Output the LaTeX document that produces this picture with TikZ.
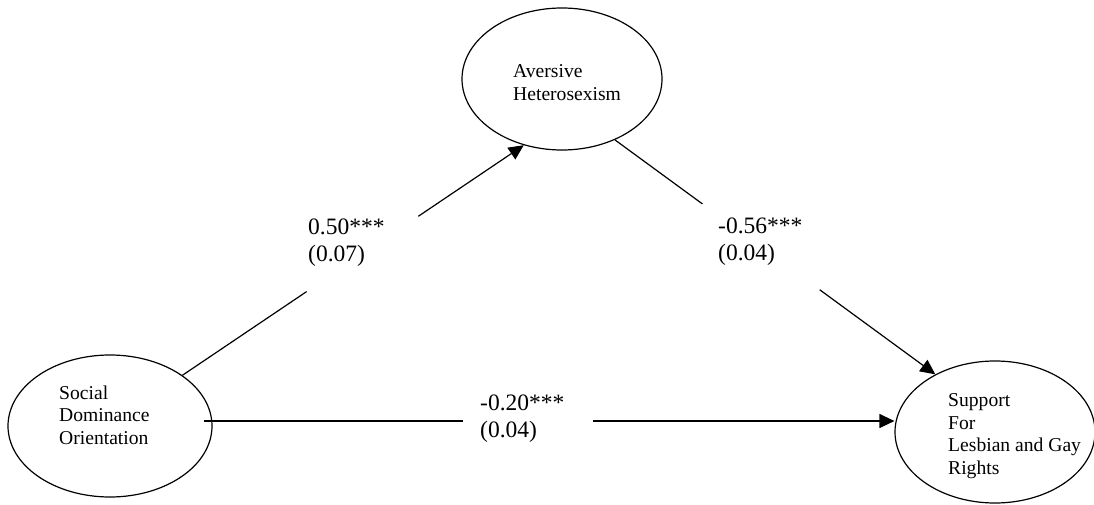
\documentclass[tikz,border=0pt]{standalone}
\usepackage{fontspec}
\setmainfont{Liberation Serif}
\usetikzlibrary{arrows.meta,shapes.geometric,calc}
\begin{document}
\begin{tikzpicture}[x=1pt,y=1pt,
  latent/.style={draw, ellipse, line width=1.2pt, minimum height=142pt, inner sep=0pt},
  txt/.style={anchor=north west, inner sep=0pt, align=left, font=\fontsize{19.6}{22.5}\selectfont},
  lab/.style={anchor=north west, inner sep=0pt, align=left, font=\fontsize{23.5}{27}\selectfont},
  conn/.style={line width=1.2pt},
  arr/.style={conn, -{Triangle[length=15pt,width=14pt]}}]
\useasboundingbox (0,0) rectangle (1094,504);
% latent variables
\node[latent, minimum width=200pt] (ah) at (562,425) {};
\node[latent, minimum width=204pt] (sdo) at (110,78) {};
\node[latent, minimum width=200pt] (slgr) at (995,72) {};
% texts inside
\node[txt] (ahtext) at (513,439.4) {Aversive\\Heterosexism};
\node[txt] (sdotext) at (59,118.4) {Social\\Dominance\\Orientation};
\node[txt] (slgrtext) at (948,110.3) {Support\\For\\Lesbian and Gay\\Rights};
% SDO -> AH
\draw[conn] (sdo.35) -- ($(sdo.35)!0.364!(ah.240)$);
\draw[arr] ($(sdo.35)!0.691!(ah.240)$) -- (ah.240);
% AH -> SLGR
\draw[conn] (ah.311) -- ($(ah.311)!0.273!(slgr.136.5)$);
\draw[arr] ($(ah.311)!0.639!(slgr.136.5)$) -- (slgr.136.5);
% SDO -> SLGR
\coordinate (hs) at ([shift={(-9,5)}]sdo.east);
\coordinate (he) at (hs -| slgr.west);
\draw[conn] (hs) -- ($(hs)!0.376!(he)$);
\draw[arr] ($(hs)!0.5636!(he)$) -- (he);
% path coefficients
\node[lab] (l1) at (308,285) {0.50***\\(0.07)};
\node[lab] (l2) at (718,286) {-0.56***\\(0.04)};
\node[lab] (l3) at (480,109) {-0.20***\\(0.04)};
\end{tikzpicture}
\end{document}
